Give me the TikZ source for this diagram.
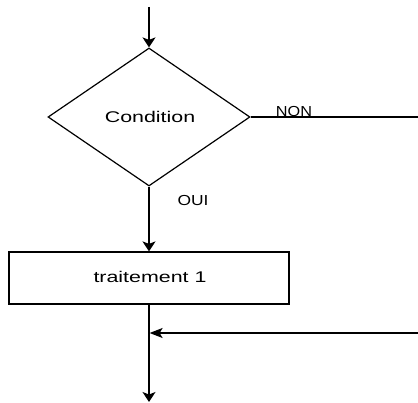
\documentclass[tikz,border=0pt]{standalone}
\usepackage{fontspec}
\setmainfont{Liberation Sans}
\usetikzlibrary{shapes.geometric,arrows.meta}
\begin{document}
\begin{tikzpicture}[x=1pt,y=1pt,
  line/.style={draw=black,line width=1.2pt},
  arr/.style={line,-{Stealth[length=10pt,width=13pt,inset=2.5pt]}},
  harr/.style={line,-{Stealth[length=13pt,width=10pt,inset=3pt]}},
  lbl/.style={inner sep=0pt,text=black},
  decision/.style={diamond,line,minimum width=202pt,minimum height=138pt,inner sep=0pt,aspect=1.4638},
  procbox/.style={rectangle,line,minimum width=280pt,minimum height=52pt,inner sep=0pt}]
\useasboundingbox (0,0) rectangle (418,-403);
\coordinate (start) at (149,-7);
\node[decision] (cond) at (149,-117) {};
\node[lbl,font=\fontsize{15.5}{15.5}\selectfont] at (150,-117) {\scalebox{1.38}[1]{Condition}};
\node[procbox] (t1) at (149,-278) {};
\node[lbl,font=\fontsize{15.5}{15.5}\selectfont] at (150,-277) {\scalebox{1.38}[1]{traitement 1}};
\coordinate (nonend) at (418,-117);
\coordinate (retstart) at (418,-333);
\coordinate (join) at (149,-333);
\coordinate (endpt) at (149,-402);
\node[lbl,font=\fontsize{14.5}{14.5}\selectfont] (non) at (294,-112) {\scalebox{1.12}[1]{NON}};
\node[lbl,font=\fontsize{14.5}{14.5}\selectfont] (oui) at (193,-201) {\scalebox{1.2}[1]{OUI}};
\draw[arr] (start) -- (cond.north);
\draw[line] (cond.east) -- (nonend);
\draw[arr] (cond.south) -- (t1.north);
\draw[arr] (t1.south) -- (endpt);
\draw[harr] (retstart) -- ([xshift=0.6pt]join);
\end{tikzpicture}
\end{document}
